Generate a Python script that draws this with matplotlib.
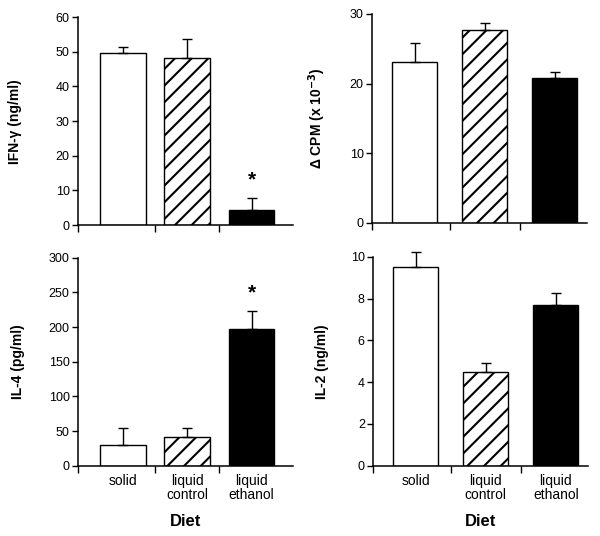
import matplotlib
matplotlib.use('Agg')
import matplotlib.pyplot as plt
import numpy as np

plt.rcParams['font.family'] = ['Liberation Sans', 'DejaVu Sans']
plt.rcParams['hatch.linewidth'] = 1.5

# Data
diets = ['solid', 'liquid\ncontrol', 'liquid\nethanol']
ifn_mean = [49.6, 48.2, 4.4]
ifn_err = [1.8, 5.4, 3.3]
cpm_mean = [23.1, 27.7, 20.8]
cpm_err = [2.7, 1.0, 0.9]
il4_mean = [30, 42, 197]
il4_err = [25, 12, 27]
il2_mean = [9.5, 4.5, 7.7]
il2_err = [0.75, 0.43, 0.57]
ifn_sig = [2]
il4_sig = [2]

faces = ['white', 'white', 'black']
hatches = ['', '//', '']

fig = plt.figure(figsize=(6, 5.36), dpi=100)

panels = [
    # position, means, errs, ylim, ystep, ylabel, label x, xlim, bar width, sig, bottom row
    ([0.13, 0.580, 0.358, 0.388], ifn_mean, ifn_err, 60, 10, 'IFN-\u03b3 (ng/ml)', -0.26, (-0.70, 2.64), 0.71, ifn_sig, False),
    ([0.62, 0.584, 0.358, 0.390], cpm_mean, cpm_err, 30, 10, '\u0394 CPM (x 10$^{\\mathbf{-3}}$)', -0.205, (-0.61, 2.46), 0.64, [], False),
    ([0.13, 0.131, 0.358, 0.388], il4_mean, il4_err, 300, 50, 'IL-4 (pg/ml)', -0.245, (-0.70, 2.64), 0.71, il4_sig, True),
    ([0.622, 0.131, 0.358, 0.390], il2_mean, il2_err, 10, 2, 'IL-2 (ng/ml)', -0.205, (-0.61, 2.46), 0.64, [], True),
]

for pos, means, errs, ytop, ystep, ylabel, labx, xlim, bw, sig, bottom in panels:
    ax = fig.add_axes(pos)
    x = np.arange(len(diets))
    ax.bar(x, means, width=bw, color=faces, edgecolor='black', linewidth=1.0,
           hatch=hatches, zorder=2)
    eb = ax.errorbar(x, means, yerr=[np.zeros(len(errs)), errs], fmt='none',
                     ecolor='black', elinewidth=1.0, capsize=3.5, capthick=1.0, zorder=3)
    for art in eb.lines[1] + eb.lines[2]:
        art.set_clip_on(False)
    for i in sig:
        ax.annotate('*', (x[i], means[i] + errs[i]), xytext=(0, 13),
                    textcoords='offset points', ha='center', va='center',
                    fontsize=15, fontweight='bold')

    ax.set_xlim(*xlim)
    ax.set_ylim(0, ytop)
    ax.set_yticks(np.arange(0, ytop + ystep / 2, ystep))
    ax.tick_params(axis='y', direction='out', length=4, width=1, labelsize=9, pad=2)

    ax.set_xticks(x)
    ax.set_xticks([xlim[0], 0.5, 1.5], minor=True)
    ax.tick_params(axis='x', which='major', length=0, labelsize=10, pad=6)
    ax.tick_params(axis='x', which='minor', direction='out', length=5, width=1)
    if bottom:
        ax.set_xticklabels(diets, linespacing=0.95)
        ax.set_xlabel('Diet', fontsize=12, fontweight='bold', labelpad=9)
    else:
        ax.set_xticklabels([])

    for s in ['top', 'right']:
        ax.spines[s].set_visible(False)
    for s in ['left', 'bottom']:
        ax.spines[s].set_linewidth(1.1)

    ax.set_ylabel(ylabel, fontsize=10, fontweight='bold')
    ax.yaxis.set_label_coords(labx, 0.5)

fig.savefig('out.png', dpi=100)
